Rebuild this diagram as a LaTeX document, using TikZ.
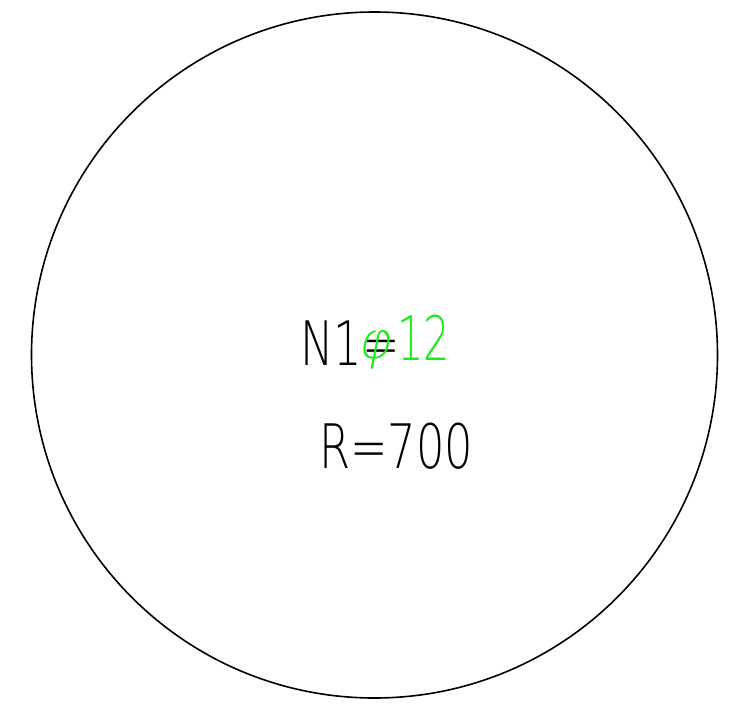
\documentclass[tikz,border=0pt]{standalone}
\usepackage{fontspec}
\newfontfamily\cadfont{DejaVu Sans ExtraLight}
\newfontfamily\cadslant{DejaVu Sans ExtraLight}[FakeSlant=0.2]
\definecolor{cadgreen}{RGB}{25,235,25}
\begin{document}
\begin{tikzpicture}[x=0.75pt,y=-0.75pt,
  lbl/.style={inner sep=0pt,font=\cadfont\fontsize{46}{46}\selectfont,xscale=0.73}]
\useasboundingbox (0,0) rectangle (743,715);
\node[draw,circle,line width=1.2pt,minimum size=686*0.75pt,inner sep=0pt] (c) at (374.5,355) {};
\node[lbl,anchor=base west] (n1) at (300,365) {N1=};
\node[lbl,anchor=base west,text=cadgreen,xscale=0.68/0.73] (d) at (397,360) {12};
\node[inner sep=0pt,text=cadgreen,font=\cadslant\fontsize{38}{38}\selectfont] (phi) at (374,350) {φ};
\node[lbl,anchor=base west] (r) at (319,468) {R=700};
\end{tikzpicture}
\end{document}
